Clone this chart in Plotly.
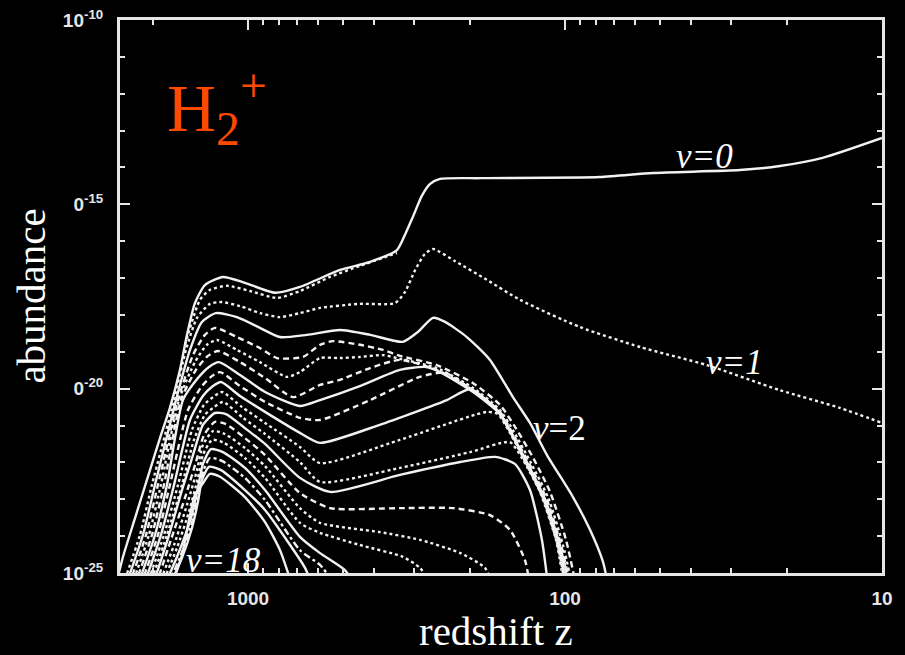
import math
import plotly.graph_objects as go

# Each vibrational level: list of (redshift z, log10 abundance)
v0 = [(2610, -25.32), (2480, -24.56), (2273, -23.51), (2039, -22.21), (1896, -21.34),
      (1764, -20.52), (1640, -19.49), (1558, -18.54), (1471, -17.68), (1368, -17.19),
      (1200, -16.97), (1023, -17.13), (822, -17.40), (686, -17.24), (513, -16.78),
      (412, -16.56), (339, -16.24), (320, -15.83), (302, -15.34), (283, -14.77),
      (267, -14.45), (248, -14.31), (185, -14.29), (77.6, -14.26), (52.8, -14.15),
      (28.1, -14.07), (21.0, -13.96), (15.4, -13.74), (10, -13.20)]

upper_dotted = [(1581, -18.81), (1418, -17.59), (1319, -17.32), (1165, -17.21), (986, -17.35),
                (810, -17.54), (686, -17.35), (551, -16.97), (444, -16.67), (339, -16.32)]

v1 = [(2480, -25.32), (2193, -23.97), (2010, -22.61), (1712, -20.31), (1570, -18.95),
      (1449, -18.08), (1319, -17.70), (1209, -17.65), (1060, -17.76), (917, -17.95),
      (793, -18.06), (686, -17.95), (593, -17.81), (444, -17.70), (344, -17.68),
      (320, -17.38), (297, -16.78), (277, -16.35), (261, -16.21), (222.5, -16.54),
      (176.3, -17.05), (138.7, -17.59), (89.7, -18.33), (58.0, -18.87), (35.7, -19.36),
      (21.0, -20.04), (13.6, -20.52), (10, -20.93)]

v2 = [(2427, -25.32), (2146, -23.97), (1966, -22.61), (1688, -20.31), (1525, -18.95),
      (1398, -18.19), (1263, -17.95), (1084, -18.06), (917, -18.35), (793, -18.60),
      (652, -18.54), (513, -18.41), (412, -18.54), (325, -18.73), (291, -18.46),
      (261, -18.08), (239, -18.19), (204, -18.60), (172.5, -19.22), (146, -20.23),
      (129, -20.93), (114, -21.80), (94.4, -22.94), (83.4, -23.83), (75.9, -24.70),
      (73.2, -25.32)]

v3 = [(2374, -25.32), (2099, -23.97), (1924, -22.61), (1663, -20.31), (1492, -19.09),
      (1368, -18.54), (1272, -18.35), (1084, -18.60), (917, -18.90), (810, -19.17),
      (671, -19.14), (593, -18.81), (540, -18.71), (444, -18.81), (375, -18.95),
      (332, -19.11), (254, -19.36), (195, -19.85), (160.4, -20.44), (143, -21.07),
      (126, -21.88), (111.5, -22.80), (99.3, -24.10), (92.4, -25.32)]

v4 = [(2323, -25.32), (2054, -23.97), (1883, -22.61), (1652, -20.31), (1471, -19.28),
      (1348, -18.81), (1253, -18.68), (1084, -18.95), (917, -19.28), (754, -19.68),
      (686, -19.55), (593, -19.17), (513, -19.17), (444, -19.14), (375, -19.09),
      (332, -19.19), (254, -19.44), (195, -19.98), (160.4, -20.58), (145, -21.17),
      (128, -22.02), (113, -22.96), (101.5, -24.24), (95.1, -25.32)]

v5 = [(2273, -25.32), (2010, -23.97), (1842, -22.61), (1628, -20.31), (1460, -19.49),
      (1338, -19.11), (1244, -18.98), (1060, -19.28), (884, -19.71), (722, -20.23),
      (593, -19.90), (513, -19.76), (412, -19.44), (332, -19.22), (254, -19.49),
      (195, -20.04), (160.4, -20.63), (146, -21.23), (129, -22.07), (114, -23.02),
      (102.3, -24.32), (96.5, -25.32)]

v6 = [(2224, -25.32), (1966, -23.97), (1802, -22.61), (1605, -20.31), (1439, -19.71),
      (1328, -19.41), (1235, -19.28), (1060, -19.63), (884, -20.09), (686, -20.47),
      (593, -20.31), (444, -19.93), (332, -19.49), (277, -19.41), (248, -19.55),
      (195, -20.09), (161.6, -20.66), (147, -21.26), (130, -22.10), (115, -23.05),
      (103, -24.35), (97.9, -25.32)]

v7 = [(2177, -25.32), (1924, -23.97), (1764, -22.61), (1547, -20.58), (1398, -19.93),
      (1309, -19.68), (1226, -19.55), (1060, -19.93), (884, -20.36), (686, -20.79),
      (593, -20.85), (412, -20.31), (287, -19.68), (239, -19.57), (195, -20.06),
      (161.6, -20.63), (147, -21.23), (131, -22.07), (116, -23.02), (103.7, -24.32),
      (98.6, -25.32)]

v8 = [(2130, -25.32), (1883, -23.97), (1712, -22.61), (1525, -20.85), (1388, -20.20),
      (1299, -19.95), (1217, -19.82), (1060, -20.20), (884, -20.63), (686, -21.20),
      (593, -21.47), (384, -20.98), (236, -20.31), (199, -20.01), (163, -20.60),
      (148, -21.20), (132, -22.04), (116.6, -22.99), (104.5, -24.29), (99.3, -25.32)]

v9 = [(2084, -25.32), (1842, -23.97), (1663, -22.61), (1503, -21.12), (1377, -20.44),
      (1290, -20.23), (1209, -20.09), (1045, -20.50), (884, -20.93), (686, -21.58),
      (593, -22.02), (332, -21.39), (176.3, -20.63), (163, -20.69), (149.2, -21.20),
      (132.8, -22.02), (117.4, -22.96), (105.3, -24.27), (100, -25.32)]

v10 = [(2039, -25.32), (1802, -23.97), (1616, -22.61), (1481, -21.39), (1368, -20.71),
       (1281, -20.50), (1200, -20.36), (1038, -20.79), (884, -21.23), (686, -21.99),
       (593, -22.53), (332, -22.15), (199, -21.72), (149.2, -21.45), (136.8, -21.88),
       (120, -22.80), (106.8, -24.10), (100.8, -25.32)]

v11 = [(1995, -25.32), (1776, -23.97), (1616, -22.75), (1492, -21.80), (1388, -20.98),
       (1272, -20.66), (1174, -20.69), (1023, -21.07), (884, -21.50), (686, -22.42),
       (551, -22.80), (332, -22.34), (214, -21.99), (166.3, -21.85), (143.9, -22.04),
       (129, -22.75), (118.3, -24.10), (113.2, -25.32)]

v12 = [(1951, -25.32), (1751, -24.10), (1581, -22.96), (1460, -21.99), (1377, -21.26),
       (1272, -20.90), (1174, -20.96), (1023, -21.34), (884, -21.80), (686, -22.83),
       (551, -23.24), (332, -23.24), (226, -23.24), (172.5, -23.43), (149.2, -23.83),
       (133.8, -24.65), (129, -25.32)]

v13 = [(1910, -25.32), (1712, -24.24), (1558, -23.15), (1449, -22.21), (1388, -21.53),
       (1290, -21.15), (1183, -21.23), (1023, -21.61), (884, -22.10), (686, -23.24),
       (593, -23.64), (384, -23.89), (287, -24.10), (214, -24.46), (178.9, -24.86),
       (170, -25.32)]

v14 = [(1869, -25.32), (1676, -24.32), (1536, -23.34), (1439, -22.42), (1388, -21.80),
       (1299, -21.39), (1191, -21.47), (1023, -21.88), (884, -22.42), (686, -23.64),
       (593, -23.91), (444, -24.24), (325, -24.56), (287, -24.86), (263, -25.32)]

v15 = [(1829, -25.32), (1652, -24.43), (1514, -23.51), (1439, -22.69), (1388, -22.04),
       (1309, -21.64), (1200, -21.72), (1023, -22.15), (884, -22.75), (686, -24.02),
       (593, -24.46), (495, -24.92), (460, -25.32)]

v16 = [(1789, -25.32), (1628, -24.51), (1503, -23.64), (1439, -22.91), (1388, -22.26),
       (1319, -21.88), (1209, -21.96), (1023, -22.42), (884, -23.02), (686, -24.38),
       (593, -24.78), (532, -25.32)]

v17 = [(1764, -25.32), (1616, -24.59), (1503, -23.78), (1439, -23.07), (1398, -22.48),
       (1328, -22.12), (1217, -22.21), (1023, -22.75), (884, -23.29), (737, -24.24),
       (661, -24.86), (628, -25.32)]

v18 = [(1738, -25.32), (1616, -24.51), (1536, -23.56), (1471, -22.88), (1398, -22.61),
       (1319, -22.31), (1226, -22.39), (1023, -22.94), (884, -23.62), (793, -24.38),
       (727, -25.32)]

# Axis ticks
x_major = [1000, 100, 10]
x_major_text = ["1000", "100", "10"]
x_minor = [2000, 900, 800, 700, 600, 500, 400, 300, 200,
           90, 80, 70, 60, 50, 40, 30, 20]
y_major = [1e-10, 1e-15, 1e-20, 1e-25]
y_major_text = ["10<sup>-10</sup>", "0<sup>-15</sup>", "0<sup>-20</sup>", "10<sup>-25</sup>"]
y_minor = [10.0 ** (-k) for k in range(11, 25) if k not in (15, 20)]

DOT = "3px,3px"
DASH = "6px,4px"
DASHDOT = "7px,3px,3px,3px"

curves = [
    (v18, "solid"), (v17, "solid"), (v16, DASHDOT), (v15, "solid"), (v14, DOT),
    (v13, DOT), (v12, DASH), (v11, "solid"), (v10, DOT), (v9, DOT), (v8, "solid"),
    (v7, DASH), (v6, "solid"), (v5, DASH), (v4, DOT), (v3, DASH), (v2, "solid"),
    (v1, DOT), (upper_dotted, DOT), (v0, "solid"),
]

LINE = "#f2f2f2"
AXIS = "#e6e6e6"

fig = go.Figure()
for pts, dash in curves:
    fig.add_trace(go.Scatter(
        x=[p[0] for p in pts],
        y=[10.0 ** p[1] for p in pts],
        mode="lines",
        line=dict(color=LINE, width=2.4, dash=dash, shape="spline", smoothing=0.6),
        showlegend=False,
        hoverinfo="skip",
    ))

tick_font = dict(family="Liberation Sans", size=19, color=AXIS, weight="bold")
label_font = dict(family="Liberation Serif", size=35, color="white")

fig.update_layout(
    width=905, height=655,
    margin=dict(l=120, r=23, t=20, b=82),
    paper_bgcolor="black", plot_bgcolor="black",
    xaxis=dict(
        type="log", range=[math.log10(2535), 1],
        tickvals=x_major, ticktext=x_major_text,
        ticks="inside", ticklen=10, tickwidth=2, tickcolor=AXIS,
        showline=True, linewidth=3, linecolor=AXIS, mirror="ticks",
        showgrid=False, zeroline=False, tickfont=tick_font,
        minor=dict(tickvals=x_minor, ticks="inside", ticklen=5, tickwidth=2,
                   tickcolor=AXIS, showgrid=False),
        automargin=False, ticklabelstandoff=6,
    ),
    yaxis=dict(
        type="log", range=[-25, -10],
        tickvals=y_major, ticktext=y_major_text,
        ticks="inside", ticklen=10, tickwidth=2, tickcolor=AXIS,
        showline=True, linewidth=3, linecolor=AXIS, mirror="ticks",
        showgrid=False, zeroline=False, tickfont=tick_font,
        minor=dict(tickvals=y_minor, ticks="inside", ticklen=5, tickwidth=2,
                   tickcolor=AXIS, showgrid=False),
        automargin=False, ticklabelstandoff=10,
    ),
    annotations=[
        dict(text="abundance", xref="paper", yref="paper", x=-0.118, y=0.5,
             textangle=-90, showarrow=False, xanchor="center", yanchor="middle",
             font=dict(family="Liberation Serif", size=41, color="white")),
        dict(text="redshift z", xref="paper", yref="paper", x=0.494, y=-0.105,
             showarrow=False, xanchor="center", yanchor="middle",
             font=dict(family="Liberation Serif", size=41, color="white")),
        dict(text="H<sub>2</sub><sup>+</sup>", xref="paper", yref="paper",
             x=(165 - 120) / 762, y=(573 - 107) / 553, showarrow=False,
             xanchor="left", yanchor="middle",
             font=dict(family="Liberation Serif", size=68, color="#ff4800")),
        dict(text="<i>v=0</i>", x=1.559, y=-13.69, xref="x", yref="y",
             showarrow=False, font=label_font),
        dict(text="<i>v=1</i>", x=1.464, y=-19.28, xref="x", yref="y",
             showarrow=False, font=label_font),
        dict(text="<i>v</i>=2", x=2.019, y=-21.09, xref="x", yref="y",
             showarrow=False, font=label_font),
        dict(text="<i>v=18</i>", x=3.076, y=-24.65, xref="x", yref="y",
             showarrow=False, font=label_font),
    ],
)

fig.write_html("out.html")
